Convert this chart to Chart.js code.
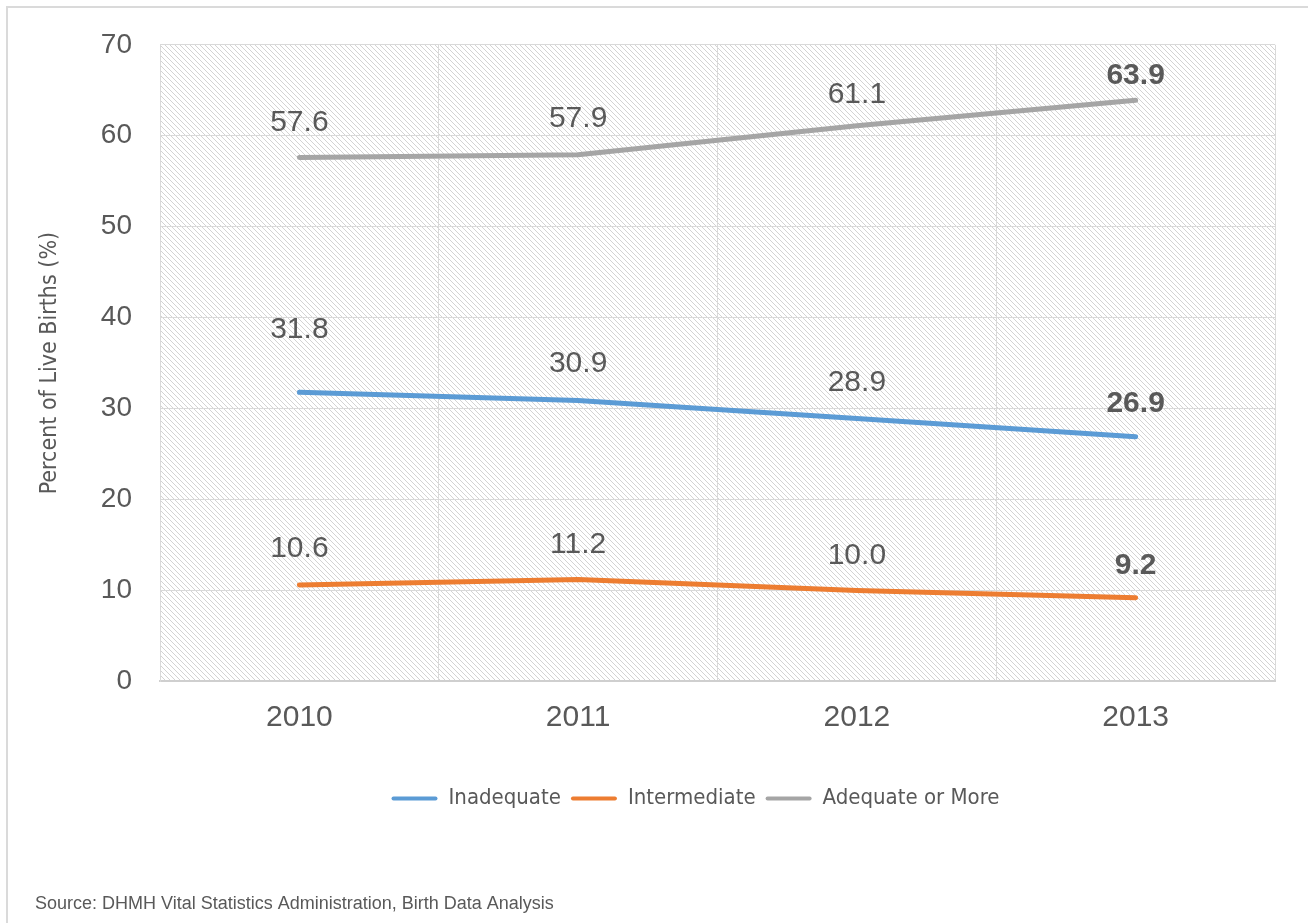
<!DOCTYPE html>
<html>
<head>
<meta charset="utf-8">
<title>Adequacy of Prenatal Care</title>
<script src="https://cdn.jsdelivr.net/npm/chart.js@4.4.1/dist/chart.umd.min.js"></script>
<style>
  html, body { margin: 0; padding: 0; background: #fff; overflow: hidden; }
  #wrap { position: relative; width: 1308px; height: 923px; }
  #frame {
    position: absolute; left: 6px; top: 6px; width: 1320px; height: 940px;
    border: 2px solid #dadada; pointer-events: none;
  }
  canvas { position: absolute; left: 0; top: 0; }
</style>
</head>
<body>
<div id="wrap">
  <canvas id="careChart" width="1308" height="923"></canvas>
  <div id="frame"></div>
</div>
<script>
const years = ["2010", "2011", "2012", "2013"];
const inadequate = [31.8, 30.9, 28.9, 26.9];
const intermediate = [10.6, 11.2, 10.0, 9.2];
const adequateOrMore = [57.6, 57.9, 61.1, 63.9];
const yTicks = [0, 10, 20, 30, 40, 50, 60, 70];

// how far above each point its value label sits (px)
const labelLift = {
  "Inadequate": [62, 37, 36, 33],
  "Intermediate": [36, 35, 35, 32],
  "Adequate or More": [35, 36, 31, 25]
};

const ARIAL = '"Liberation Sans", Arial, sans-serif';
const NARROW = '"Liberation Sans Narrow", "DejaVu Sans Condensed", "Roboto Condensed", sans-serif';
const GREY_TEXT = "#595959";

// diagonal dotted hatch behind the plot
const hatchFill = {
  id: "hatchFill",
  beforeDraw(chart) {
    const { ctx, chartArea: a } = chart;
    const tile = document.createElement("canvas");
    tile.width = tile.height = 5;
    const t = tile.getContext("2d");
    t.fillStyle = "#ffffff";
    t.fillRect(0, 0, 5, 5);
    t.fillStyle = "#d3d3d3";
    for (let i = 0; i < 5; i++) t.fillRect(i, i, 1, 1);
    ctx.save();
    ctx.fillStyle = ctx.createPattern(tile, "repeat");
    ctx.fillRect(a.left, a.top, a.right - a.left, a.bottom - a.top);
    ctx.restore();
  }
};

// nudge the legend row a little left of the plot centre
const legendShift = {
  id: "legendShift",
  afterLayout(chart) {
    if (chart.legend) {
      chart.legend.left -= 22;
      chart.legend.right -= 22;
    }
  }
};

// value labels above the line points, last year in bold
const valueLabels = {
  id: "valueLabels",
  afterDatasetsDraw(chart) {
    const ctx = chart.ctx;
    chart.data.datasets.forEach((ds, di) => {
      const meta = chart.getDatasetMeta(di);
      const lift = labelLift[ds.label];
      meta.data.forEach((pt, i) => {
        const last = i === ds.data.length - 1;
        ctx.save();
        ctx.font = (last ? "bold " : "") + "30px " + ARIAL;
        ctx.fillStyle = GREY_TEXT;
        ctx.textAlign = "center";
        ctx.textBaseline = "middle";
        ctx.fillText(ds.data[i].toFixed(1), pt.x, pt.y - lift[i]);
        ctx.restore();
      });
    });
  }
};

function lineSeries(label, values, color) {
  return {
    label: label,
    data: values,
    borderColor: color,
    backgroundColor: color,
    borderWidth: 5,
    borderCapStyle: "round",
    borderJoinStyle: "round",
    tension: 0,
    pointRadius: 0,
    pointHoverRadius: 0,
    fill: false
  };
}

new Chart(document.getElementById("careChart"), {
  type: "line",
  data: {
    labels: years,
    datasets: [
      lineSeries("Inadequate", inadequate, "#5b9bd5"),
      lineSeries("Intermediate", intermediate, "#ed7d31"),
      lineSeries("Adequate or More", adequateOrMore, "#a5a5a5")
    ]
  },
  options: {
    responsive: false,
    animation: false,
    events: [],
    layout: { padding: { top: 44, right: 33, bottom: 8, left: 35 } },
    plugins: {
      tooltip: { enabled: false },
      legend: {
        position: "bottom",
        fullSize: false,
        labels: {
          font: { family: NARROW, size: 22 },
          color: GREY_TEXT,
          boxWidth: 46,
          boxHeight: 4,
          padding: 10,
          generateLabels(chart) {
            return chart.data.datasets.map((ds, i) => ({
              text: ds.label,
              fillStyle: ds.borderColor,
              strokeStyle: ds.borderColor,
              lineWidth: 0,
              borderRadius: 2,
              datasetIndex: i,
              fontColor: GREY_TEXT
            }));
          }
        }
      },
      subtitle: {
        display: true,
        position: "bottom",
        align: "start",
        text: "Source: DHMH Vital Statistics Administration, Birth Data Analysis",
        color: GREY_TEXT,
        font: { family: ARIAL, size: 18 },
        padding: { top: 74, bottom: 0 }
      }
    },
    scales: {
      x: {
        offset: true,
        grid: { offset: true, color: "#d9d9d9", lineWidth: 1, drawTicks: false },
        border: { color: "#cfcfcf", width: 2 },
        ticks: { color: GREY_TEXT, font: { family: ARIAL, size: 30 }, padding: 18, maxRotation: 0 },
        afterFit(scale) { scale.height = 96; }
      },
      y: {
        min: 0,
        max: 70,
        afterBuildTicks(scale) { scale.ticks = yTicks.map(v => ({ value: v })); },
        grid: { color: "#d9d9d9", lineWidth: 1, drawTicks: false },
        border: { color: "#d9d9d9", width: 1 },
        ticks: { color: GREY_TEXT, font: { family: ARIAL, size: 28 }, padding: 28 },
        title: {
          display: true,
          text: "Percent of Live Births (%)",
          color: GREY_TEXT,
          font: { family: NARROW, size: 23 },
          padding: { top: 1, bottom: 0 }
        },
        afterFit(scale) { scale.width = 125; }
      }
    }
  },
  plugins: [hatchFill, legendShift, valueLabels]
});
</script>
</body>
</html>
